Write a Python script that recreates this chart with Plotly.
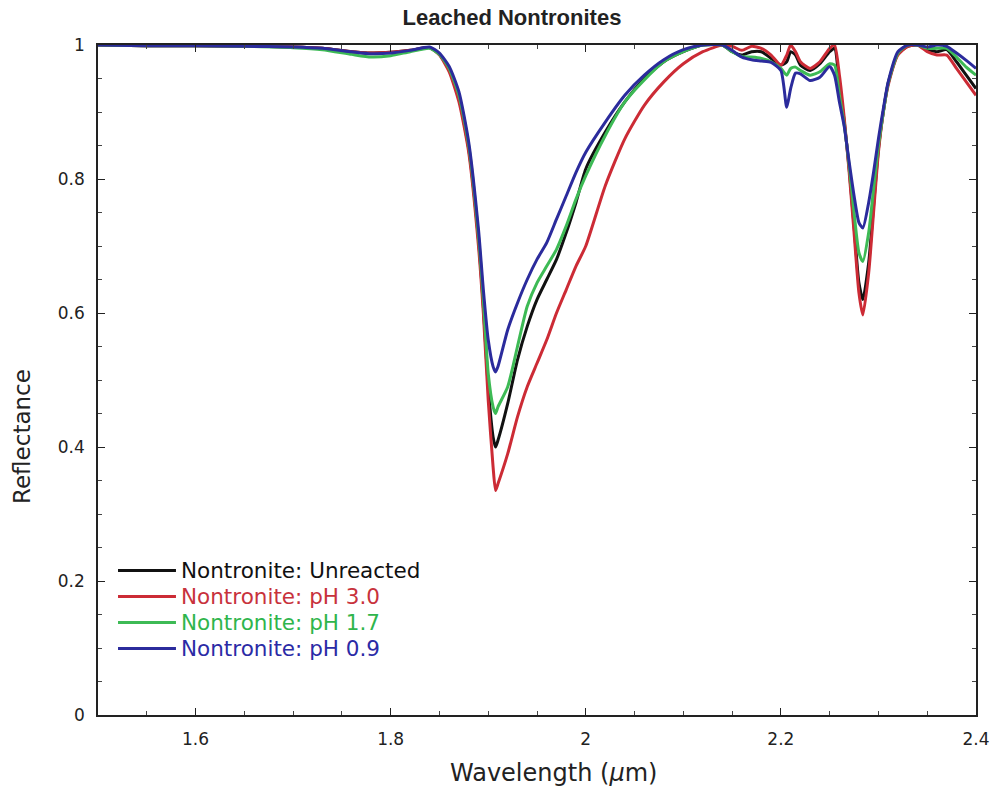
import plotly.graph_objects as go

wavelength = [1.50, 1.55, 1.60, 1.65, 1.70, 1.73, 1.76, 1.78, 1.80, 1.82, 1.84,
              1.85, 1.86, 1.87, 1.88, 1.89, 1.895, 1.90, 1.905, 1.9075,
              1.91, 1.92, 1.93, 1.94, 1.95, 1.96, 1.97, 1.98, 1.99, 2.00,
              2.02, 2.04, 2.06, 2.08, 2.10, 2.12,
              2.14, 2.15, 2.16, 2.17, 2.18, 2.19, 2.20,
              2.206, 2.21, 2.215, 2.22, 2.23, 2.24, 2.25, 2.255, 2.26,
              2.265, 2.27, 2.275, 2.28, 2.284, 2.29, 2.295, 2.30, 2.305, 2.31, 2.32,
              2.33, 2.34, 2.35, 2.36, 2.37, 2.38, 2.39, 2.40]

unreacted = [1.0, 0.999, 0.999, 0.998, 0.997, 0.995, 0.99, 0.988, 0.989, 0.992, 0.996,
             0.986, 0.963, 0.92, 0.845, 0.71, 0.61, 0.49, 0.415, 0.40,
             0.41, 0.465, 0.53, 0.58, 0.62, 0.65, 0.68, 0.72, 0.765, 0.815,
             0.87, 0.915, 0.95, 0.975, 0.99, 1.0,
             1.0, 0.99, 0.985, 0.99, 0.99, 0.98, 0.97,
             0.975, 0.99, 0.985, 0.97, 0.962, 0.972, 0.99, 0.995, 0.94,
             0.885, 0.815, 0.73, 0.645, 0.62, 0.675, 0.76, 0.845, 0.90, 0.943, 0.987,
             0.998, 1.0, 0.993, 0.99, 0.993, 0.975, 0.955, 0.935]

ph30 = [1.0, 0.999, 0.999, 0.998, 0.997, 0.995, 0.99, 0.988, 0.989, 0.992, 0.996,
        0.985, 0.96, 0.915, 0.84, 0.70, 0.60, 0.47, 0.37, 0.335,
        0.345, 0.39, 0.445, 0.49, 0.525, 0.56, 0.60, 0.635, 0.67, 0.70,
        0.79, 0.86, 0.91, 0.945, 0.972, 0.99,
        1.0, 0.998, 0.992, 0.998, 0.995, 0.985, 0.97,
        0.985, 1.0, 0.99, 0.975, 0.965, 0.975, 0.995, 1.0, 0.955,
        0.89, 0.81, 0.72, 0.63, 0.597, 0.66, 0.75, 0.84, 0.90, 0.94, 0.985,
        0.998, 1.0, 0.99, 0.985, 0.985, 0.965, 0.945, 0.925]

ph17 = [1.0, 0.999, 0.999, 0.998, 0.996, 0.993, 0.986, 0.982, 0.984, 0.99, 0.995,
        0.986, 0.965, 0.925, 0.85, 0.715, 0.62, 0.51, 0.46, 0.45,
        0.46, 0.49, 0.55, 0.61, 0.645, 0.67, 0.695, 0.73, 0.77, 0.805,
        0.865, 0.915, 0.948, 0.975, 0.99, 1.0,
        1.0, 0.99, 0.983, 0.982, 0.98, 0.975, 0.965,
        0.955, 0.965, 0.967, 0.962, 0.955, 0.96, 0.972, 0.97, 0.925,
        0.88, 0.82, 0.75, 0.69, 0.677, 0.72, 0.785, 0.85, 0.90, 0.943, 0.988,
        1.0, 1.0, 0.995, 0.995, 0.995, 0.982, 0.967, 0.955]

ph09 = [1.0, 0.999, 0.999, 0.998, 0.997, 0.995, 0.99, 0.987, 0.988, 0.992, 0.997,
        0.988, 0.968, 0.93, 0.855, 0.725, 0.635, 0.56, 0.52, 0.512,
        0.52, 0.575, 0.615, 0.65, 0.68, 0.705, 0.74, 0.775, 0.81, 0.84,
        0.885, 0.925, 0.955, 0.978, 0.993, 1.0,
        1.0, 0.992, 0.982, 0.978, 0.976, 0.974, 0.962,
        0.907, 0.935, 0.958, 0.957, 0.947, 0.952, 0.968, 0.955, 0.915,
        0.878, 0.825, 0.775, 0.735, 0.727, 0.765, 0.81, 0.86, 0.905, 0.945, 0.99,
        1.0, 1.0, 0.997, 1.0, 0.998, 0.988, 0.977, 0.965]

series_names = ["Nontronite: Unreacted", "Nontronite: pH 3.0", "Nontronite: pH 1.7", "Nontronite: pH 0.9"]
series_values = [unreacted, ph30, ph17, ph09]
line_colors = ["#111111", "#cc2b35", "#3dba55", "#2b2b9c"]
text_colors = ["#111111", "#c8323c", "#2fb54c", "#2b2ba6"]

FONT = "DejaVu Sans, Liberation Sans, sans-serif"

fig = go.Figure()
for name, vals, lc in zip(series_names, series_values, line_colors):
    fig.add_trace(go.Scatter(
        x=wavelength, y=vals, mode="lines", name=name, showlegend=False,
        line=dict(color=lc, width=3, shape="spline", smoothing=0.6),
    ))

# legend drawn as line samples + coloured text, stacked like the original
legend_x0, legend_x1, legend_tx = 0.0228, 0.0888, 0.0934
legend_px = [570.5, 596.5, 622.5, 648.5]
legend_y = [(715 - p) / 670 for p in legend_px]
shapes = []
annotations = []
for name, lc, tc, ly in zip(series_names, line_colors, text_colors, legend_y):
    shapes.append(dict(type="line", xref="paper", yref="paper", x0=legend_x0, x1=legend_x1,
                       y0=ly, y1=ly, line=dict(color=lc, width=3)))
    annotations.append(dict(xref="paper", yref="paper", x=legend_tx, y=ly, xanchor="left",
                            yanchor="middle", text=name, showarrow=False, borderpad=0,
                            font=dict(family=FONT, size=21.5, color=tc)))

# axis titles
annotations.append(dict(xref="paper", yref="paper", x=(553 - 98) / 878, y=-(773 - 715) / 670,
                        xanchor="center", yanchor="middle", showarrow=False,
                        text="Wavelength (<i>μ</i>m)", font=dict(family=FONT, size=24, color="#222")))
annotations.append(dict(xref="paper", yref="paper", x=-(98 - 22) / 878, y=(715 - 437) / 670,
                        xanchor="center", yanchor="middle", showarrow=False, textangle=-90,
                        text="Reflectance", font=dict(family=FONT, size=23, color="#222")))

axis_common = dict(
    showline=True, linecolor="#222", linewidth=1.5, mirror="ticks",
    ticks="inside", ticklen=7, tickcolor="#222", tickwidth=1.2,
    showgrid=False, zeroline=False, automargin=False,
    tickfont=dict(family=FONT, size=17, color="#222"),
)

fig.update_layout(
    width=992, height=795,
    margin=dict(l=98, r=16, t=45, b=80),
    paper_bgcolor="white", plot_bgcolor="white",
    title=dict(text="<b>Leached Nontronites</b>", xref="container", x=512 / 992, xanchor="center",
               yref="container", y=1 - 17 / 795, yanchor="middle",
               font=dict(family="Liberation Sans, Arial, sans-serif", size=22, color="#222")),
    xaxis=dict(range=[1.5, 2.4], dtick=0.2, tick0=1.6, ticklabelstandoff=8,
               minor=dict(dtick=0.05, tick0=1.5, ticks="inside", ticklen=4, tickcolor="#444"),
               **axis_common),
    yaxis=dict(range=[0, 1], dtick=0.2, tick0=0, ticklabelstandoff=8,
               minor=dict(dtick=0.05, tick0=0, ticks="inside", ticklen=4, tickcolor="#444"),
               **axis_common),
    shapes=shapes,
    annotations=annotations,
    showlegend=False,
)

fig.write_html("out.html")
